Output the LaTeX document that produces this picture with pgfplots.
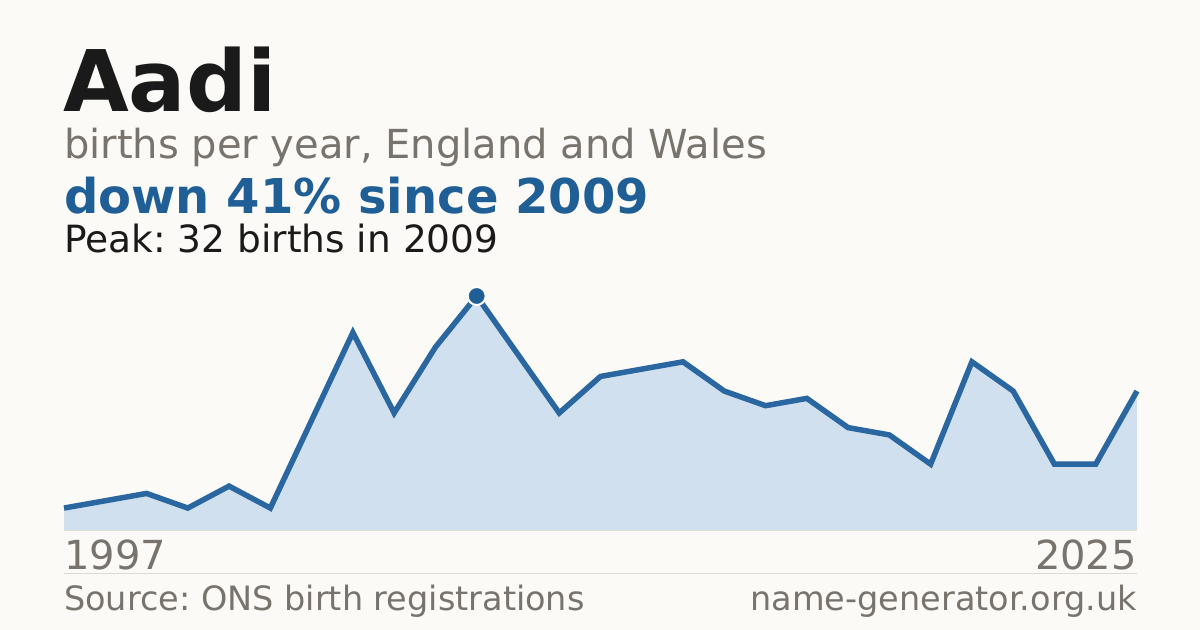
\documentclass[border=0pt]{standalone}
\usepackage{fontspec}
\setmainfont{DejaVu Sans}
\usepackage{pgfplots}
\pgfplotsset{compat=1.18}
\frenchspacing

\definecolor{bg}{HTML}{FBFAF6}
\definecolor{ink}{HTML}{1A1A1A}
\definecolor{muted}{HTML}{78736C}
\definecolor{accent}{HTML}{1F5F96}
\definecolor{linec}{HTML}{2A67A0}
\definecolor{areac}{HTML}{D0E0EF}
\definecolor{rulec}{HTML}{DDDBD5}

% births per year, one point per published year (1997 ... 2025)
\pgfplotstableread{
idx births
0 3
1 4
2 5
3 3
4 6
5 3
6 15
7 27
8 16
9 25
10 32
11 24
12 16
13 21
14 22
15 23
16 19
17 17
18 18
19 14
20 13
21 9
22 23
23 19
24 9
25 9
26 19
}\births

\begin{document}
\begin{tikzpicture}
\fill[bg] (0,0) rectangle (1200bp,630bp);

\node[anchor=base west, inner sep=0, text=ink] at (63bp,518bp)
  {\fontsize{85bp}{85bp}\selectfont\bfseries Aadi};
\node[anchor=base west, inner sep=0, text=muted] at (64bp,471bp)
  {\fontsize{40bp}{40bp}\selectfont births per year, England and Wales};
\node[anchor=base west, inner sep=0, text=accent] at (64bp,416bp)
  {\fontsize{48bp}{48bp}\selectfont\bfseries down 41\% since 2009};
\node[anchor=base west, inner sep=0, text=ink] at (64bp,377bp)
  {\fontsize{37.5bp}{37.5bp}\selectfont Peak: 32 births in 2009};

\begin{axis}[
  at={(64bp,100bp)}, anchor=south west,
  scale only axis, width=1073bp, height=234bp,
  xmin=0, xmax=26, ymin=0, ymax=32,
  axis lines=none, clip=false,
  ]
  \addplot[draw=none, fill=areac] table[x=idx, y=births] {\births} \closedcycle;
  \draw[rulec, line width=0.8bp] (axis cs:0,0) -- (axis cs:26,0);
  \addplot[linec, line width=5.5bp, line join=miter, mark=none] table[x=idx, y=births] {\births};
  \addplot[only marks, mark=*, mark size=9bp,
    mark options={fill=accent, draw=white, line width=2bp}]
    coordinates {(10,32)};
\end{axis}

\node[anchor=base west, inner sep=0, text=muted] at (64bp,60bp)
  {\fontsize{40bp}{40bp}\selectfont 1997};
\node[anchor=base east, inner sep=0, text=muted] at (1137bp,60bp)
  {\fontsize{40bp}{40bp}\selectfont 2025};
\draw[rulec, line width=1bp] (64bp,56bp) -- (1137bp,56bp);
\node[anchor=base west, inner sep=0, text=muted] at (64bp,20bp)
  {\fontsize{33.5bp}{33.5bp}\selectfont Source: ONS birth registrations};
\node[anchor=base east, inner sep=0, text=muted] at (1137bp,20bp)
  {\fontsize{33.5bp}{33.5bp}\selectfont name-generator.org.uk};
\end{tikzpicture}
\end{document}
